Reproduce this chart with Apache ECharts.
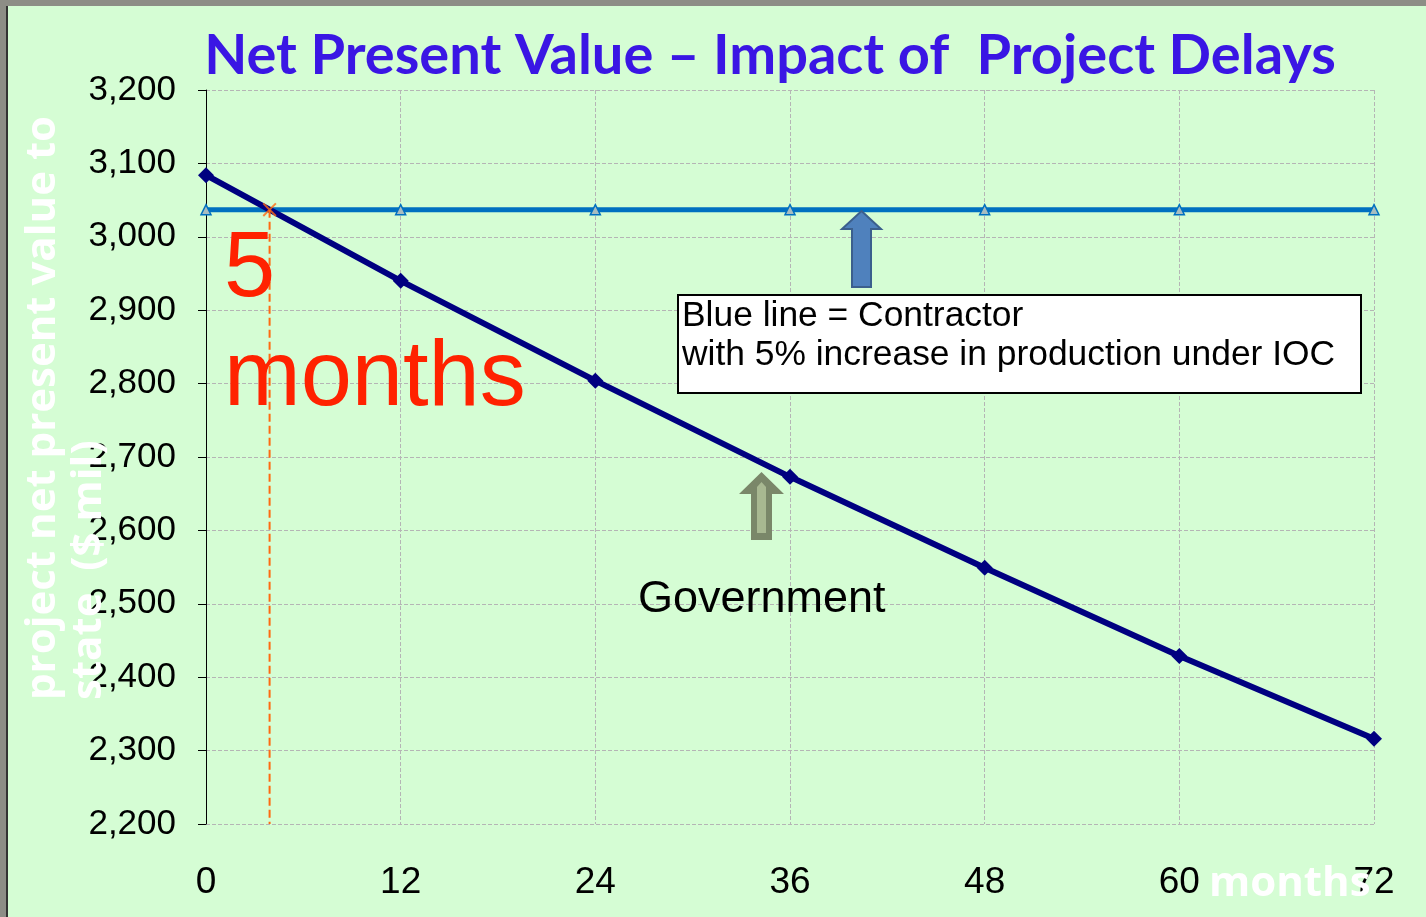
<!DOCTYPE html>
<html>
<head>
<meta charset="utf-8">
<script src="https://cdn.jsdelivr.net/npm/echarts@6/dist/echarts.min.js"></script>
<style>
  html, body { margin: 0; padding: 0; background: #d5fdd4; }
  #chart { width: 1426px; height: 917px; }
</style>
</head>
<body>
<div id="chart"></div>
<script>
// months of delay
const months = [0, 12, 24, 36, 48, 60, 72];
// project NPV to state ($ mil)
const government = [3084, 2940, 2804, 2673, 2549, 2429, 2316];
const contractor = [3037, 3037, 3037, 3037, 3037, 3037, 3037];
// break-even point (~5 months)
const crossX = 3.92;
const crossY = 3037;

const chart = echarts.init(document.getElementById('chart'));

const labelFont = '"Liberation Sans", Arial, sans-serif';

const option = {
  backgroundColor: '#d5fdd4',
  animation: false,
  grid: { left: 206, right: 52, top: 90, bottom: 93 },
  xAxis: {
    type: 'value',
    min: 0,
    max: 72,
    interval: 12,
    axisLine: { show: false },
    axisTick: { show: false },
    axisLabel: { color: '#000', fontSize: 37, fontFamily: labelFont, margin: 40 },
    splitLine: { lineStyle: { color: '#b5b5b5', type: 'dashed', width: 1 } },
  },
  yAxis: {
    type: 'value',
    min: 2200,
    max: 3200,
    interval: 100,
    axisLine: { show: true, lineStyle: { color: '#000', width: 1 } },
    axisTick: { show: true, length: 8, lineStyle: { color: '#000' } },
    axisLabel: {
      color: '#000',
      fontSize: 35,
      fontFamily: labelFont,
      margin: 30,
      formatter: (v) => v.toLocaleString('en-US'),
    },
    splitLine: { lineStyle: { color: '#b5b5b5', type: 'dashed', width: 1 } },
  },
  series: [
    {
      name: 'Contractor',
      type: 'line',
      data: months.map((m, i) => [m, contractor[i]]),
      symbol: 'triangle',
      symbolSize: 10,
      showAllSymbol: true,
      lineStyle: { color: '#0070c0', width: 5 },
      itemStyle: { color: '#a7bdc0', borderColor: '#0070c0', borderWidth: 1.5 },
      z: 2,
    },
    {
      name: 'Government',
      type: 'line',
      data: months.map((m, i) => [m, government[i]]),
      symbol: 'diamond',
      symbolSize: 16,
      lineStyle: { color: '#000080', width: 6 },
      itemStyle: { color: '#000080' },
      z: 3,
    },
    {
      name: 'Break-even',
      type: 'line',
      data: [[crossX, crossY], [crossX, 2200]],
      symbol: 'none',
      lineStyle: { color: '#ff6a10', width: 2, type: 'dashed' },
      z: 4,
    },
    {
      name: 'Cross',
      type: 'scatter',
      data: [[crossX, crossY]],
      symbol: 'path://M0,1L1,0L5,4L9,0L10,1L6,5L10,9L9,10L5,6L1,10L0,9L4,5Z',
      symbolSize: 14,
      itemStyle: { color: '#ff6a10' },
      z: 5,
    },
  ],
  graphic: [
    // frame
    { type: 'rect', left: 0, top: 0, shape: { width: 1426, height: 6 }, style: { fill: '#8d8d86' }, z: 100 },
    { type: 'rect', left: 0, top: 0, shape: { width: 6, height: 917 }, style: { fill: '#8d8d86' }, z: 100 },
    { type: 'rect', left: 6, top: 6, shape: { width: 2, height: 911 }, style: { fill: '#333' }, z: 100 },
    // title
    {
      type: 'text', x: 770, y: 56, z: 50,
      style: {
        text: 'Net Present Value \u2013 Impact of  Project Delays',
        fill: '#3a16e4', font: 'bold 56px Lato, "Open Sans", sans-serif',
        align: 'center', verticalAlign: 'middle',
      },
    },
    // y axis title (white)
    {
      type: 'text', x: 43, y: 700, rotation: Math.PI / 2, z: 50,
      style: {
        text: 'project net present value to',
        fill: '#ffffff', font: 'bold 42px "Open Sans", Lato, sans-serif',
        align: 'left', verticalAlign: 'middle',
      },
    },
    {
      type: 'text', x: 89, y: 700, rotation: Math.PI / 2, z: 50,
      style: {
        text: 'state  ($ mil)',
        fill: '#ffffff', font: 'bold 42px "Open Sans", Lato, sans-serif',
        align: 'left', verticalAlign: 'middle',
      },
    },
    // x axis title
    {
      type: 'text', x: 1209, y: 884, z: 50,
      style: {
        text: 'months',
        fill: '#ffffff', font: 'bold 42px "Open Sans", Lato, sans-serif',
        align: 'left', verticalAlign: 'middle',
      },
    },
    // 5 months label
    {
      type: 'text', x: 224, y: 271, z: 50,
      style: { text: '5', fill: '#ff2200', font: '92px ' + labelFont, align: 'left', verticalAlign: 'middle' },
    },
    {
      type: 'text', x: 224, y: 380, z: 50,
      style: { text: 'months', fill: '#ff2200', font: '92px ' + labelFont, align: 'left', verticalAlign: 'middle' },
    },
    // contractor box
    {
      type: 'rect', left: 677, top: 294, z: 40,
      shape: { width: 683, height: 98 },
      style: { fill: '#ffffff', stroke: '#000', lineWidth: 2 },
    },
    {
      type: 'text', x: 682, y: 316, z: 50,
      style: { text: 'Blue line = Contractor', fill: '#000', font: '35.4px ' + labelFont, align: 'left', verticalAlign: 'middle' },
    },
    {
      type: 'text', x: 682, y: 355, z: 50,
      style: { text: 'with 5% increase in production under IOC', fill: '#000', font: '35.4px ' + labelFont, align: 'left', verticalAlign: 'middle' },
    },
    // blue arrow
    {
      type: 'polygon', z: 45,
      shape: { points: [[861.5, 211], [881, 229], [871, 229], [871, 287], [852, 287], [852, 229], [842, 229]] },
      style: { fill: '#4f81bd', stroke: '#3b5f8d', lineWidth: 2 },
    },
    // grey-green arrow
    {
      type: 'polygon', z: 45,
      shape: { points: [[761.5, 472], [784, 494], [772, 494], [772, 540], [751, 540], [751, 494], [739, 494]] },
      style: { fill: '#7a8769' },
    },
    {
      type: 'polygon', z: 46,
      shape: { points: [[761.5, 482], [766, 487], [766, 533], [757, 533], [757, 487]] },
      style: { fill: '#a8b891' },
    },
    // government label
    {
      type: 'text', x: 638, y: 600, z: 50,
      style: { text: 'Government', fill: '#000', font: '45px ' + labelFont, align: 'left', verticalAlign: 'middle' },
    },
  ],
};

chart.setOption(option);
</script>
</body>
</html>
